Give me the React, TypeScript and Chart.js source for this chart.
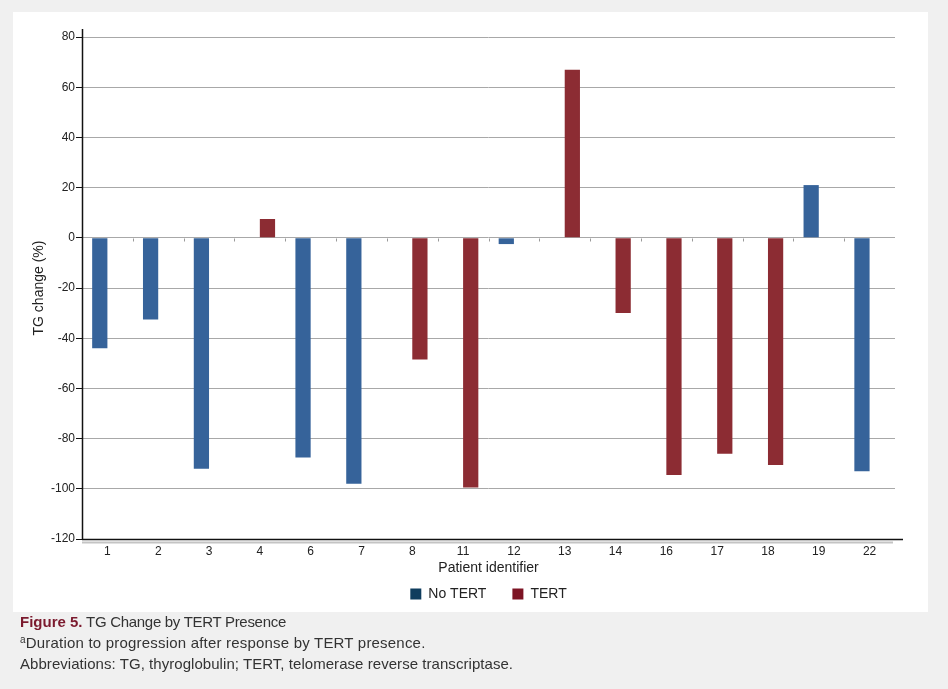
import React, { useEffect, useRef } from "react";
import { Chart, registerables } from "chart.js";

Chart.register(...registerables);

const categories = ["1", "2", "3", "4", "6", "7", "8", "11", "12", "13", "14", "16", "17", "18", "19", "22"];
const noTertValues: (number | null)[] = [-44, -32.5, -92, null, -87.5, -98, null, null, -2.5, null, null, null, null, null, 21, -93];
const tertValues: (number | null)[] = [null, null, null, 7.5, null, null, -48.5, -99.5, null, 67, -30, -94.5, -86, -90.5, null, null];
const seriesNames = ["No TERT", "TERT"];
const yTicks = { min: -120, max: 80, step: 20 };

const FONT = "'Liberation Sans', Arial, Helvetica, sans-serif";

const legendCenter = {
  id: "legendCenter",
  afterLayout(chart: any) {
    const lg = chart.legend;
    if (lg) {
      lg.left = chart.chartArea.left;
      lg.right = chart.chartArea.right;
    }
  },
};

const axisDecor = {
  id: "axisDecor",
  afterDatasetsDraw(chart: any) {
    const { ctx, chartArea, scales } = chart;
    const x = scales.x;
    const y = scales.y;
    const y0 = Math.round(y.getPixelForValue(0)) + 0.5;
    ctx.save();
    ctx.strokeStyle = "#9a9a9a";
    ctx.lineWidth = 1;
    for (let i = 1; i < categories.length; i++) {
      const px = Math.round(x.getPixelForValue(i - 0.5)) + 0.5;
      ctx.beginPath();
      ctx.moveTo(px, y0);
      ctx.lineTo(px, y0 + 3);
      ctx.stroke();
    }
    const yb = Math.round(y.getPixelForValue(yTicks.min)) + 0.5;
    ctx.strokeStyle = "#c4c4c4";
    ctx.lineWidth = 2;
    ctx.beginPath();
    ctx.moveTo(chartArea.left, yb + 3);
    ctx.lineTo(chartArea.right - 2, yb + 3);
    ctx.stroke();
    ctx.strokeStyle = "#111";
    ctx.lineWidth = 1.5;
    ctx.beginPath();
    ctx.moveTo(chartArea.left, yb);
    ctx.lineTo(chartArea.right + 8, yb);
    ctx.stroke();
    const xl = Math.round(chartArea.left) + 0.5;
    ctx.lineWidth = 1.5;
    ctx.beginPath();
    ctx.moveTo(xl, chartArea.top - 8);
    ctx.lineTo(xl, yb);
    ctx.stroke();
    ctx.restore();
  },
};

export default function App() {
  const canvasRef = useRef<HTMLCanvasElement | null>(null);

  useEffect(() => {
    if (!canvasRef.current) return;
    const chart = new Chart(canvasRef.current, {
      type: "bar",
      data: {
        labels: categories,
        datasets: [
          {
            label: seriesNames[0],
            data: noTertValues,
            backgroundColor: "#36639a",
            borderWidth: 0,
          },
          {
            label: seriesNames[1],
            data: tertValues,
            backgroundColor: "#8c2c33",
            borderWidth: 0,
          },
        ],
      },
      options: {
        animation: false,
        responsive: true,
        maintainAspectRatio: false,
        layout: { padding: { top: 25, right: 33, left: 0, bottom: 1 } },
        datasets: {
          bar: { categoryPercentage: 0.6, barPercentage: 1.0 },
        },
        plugins: {
          tooltip: { enabled: false },
          legend: {
            position: "bottom",
            labels: {
              boxWidth: 11,
              boxHeight: 11,
              padding: 26,
              color: "#222",
              font: { family: FONT, size: 14 },
              generateLabels: () => [
                { text: seriesNames[0], fillStyle: "#0f3d5e", strokeStyle: "#0f3d5e", lineWidth: 0, hidden: false, datasetIndex: 0, fontColor: "#222" },
                { text: seriesNames[1], fillStyle: "#7d1424", strokeStyle: "#7d1424", lineWidth: 0, hidden: false, datasetIndex: 1, fontColor: "#222" },
              ],
            },
          },
        },
        scales: {
          x: {
            grid: { display: false, drawTicks: false },
            border: { display: false },
            ticks: { color: "#222", font: { family: FONT, size: 12 }, padding: 5 },
            title: {
              display: true,
              text: "Patient identifier",
              color: "#222",
              font: { family: FONT, size: 14 },
              padding: { top: 0, bottom: -16 },
            },
            afterFit: (scale: any) => {
              scale.height = 22;
            },
          },
          y: {
            min: yTicks.min,
            max: yTicks.max,
            ticks: {
              stepSize: yTicks.step,
              color: "#222",
              font: { family: FONT, size: 12 },
              padding: 1,
            },
            grid: {
              color: "#a8a8a8",
              lineWidth: 1,
              drawTicks: true,
              tickLength: 6,
              tickColor: "#111",
            },
            border: { display: false },
            title: {
              display: true,
              text: "TG change (%)",
              color: "#222",
              font: { family: FONT, size: 14 },
              padding: { top: 18, bottom: 0 },
            },
            afterFit: (scale: any) => {
              scale.width = 69;
            },
          },
        },
      },
      plugins: [legendCenter, axisDecor],
    });
    return () => chart.destroy();
  }, []);

  return (
    <div
      style={{
        position: "fixed",
        left: 0,
        top: 0,
        width: 948,
        height: 689,
        background: "#f0f0f0",
        fontFamily: FONT,
      }}
    >
      <div
        style={{
          position: "absolute",
          left: 13,
          top: 12,
          width: 915,
          height: 600,
          background: "#ffffff",
          overflow: "hidden",
        }}
      >
        <canvas ref={canvasRef} />
      </div>
      <div
        style={{
          position: "absolute",
          left: 20,
          top: 611,
          fontSize: 15,
          lineHeight: "21px",
          color: "#333",
        }}
      >
        <div>
          <span style={{ color: "#7b1a2e", fontWeight: "bold" }}>Figure 5.</span>
          <span style={{ letterSpacing: "-0.3px" }}> TG Change by TERT Presence</span>
        </div>
        <div style={{ letterSpacing: "0.2px" }}>
          <sup style={{ fontSize: 10, verticalAlign: "top", lineHeight: "15px" }}>a</sup>Duration to progression after response by TERT presence.
        </div>
        <div style={{ letterSpacing: "0.05px" }}>Abbreviations: TG, thyroglobulin; TERT, telomerase reverse transcriptase.</div>
      </div>
    </div>
  );
}
